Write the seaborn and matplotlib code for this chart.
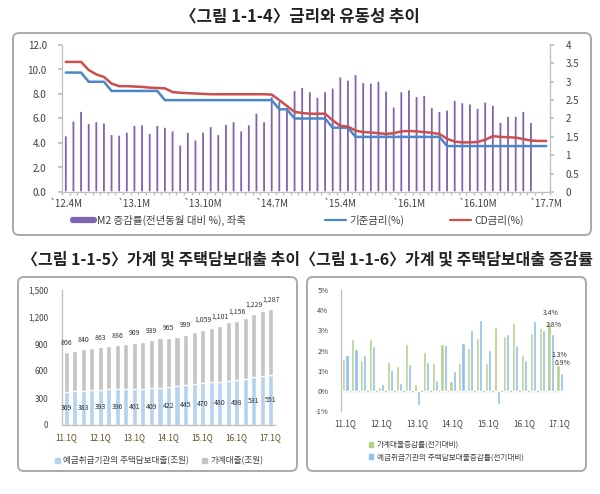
import numpy as np
import pandas as pd
import matplotlib
matplotlib.use('Agg')
import matplotlib.pyplot as plt
import matplotlib.patches as mpatches
from matplotlib.lines import Line2D
from matplotlib.transforms import IdentityTransform
import seaborn as sns

# ---- 그림 1-1-4 : 금리와 유동성 ('12.4 ~ '17.7, 월별)
months = pd.period_range('2012-04', '2017-07', freq='M')
month_labels = [f"`{p.year % 100}.{p.month}M" for p in months]
m2_growth = [4.6, 5.8, 6.6, 5.6, 5.75, 5.65, 4.7, 4.65, 4.9, 5.45,
             5.5, 4.8, 5.45, 5.3, 5.0, 3.85, 4.9, 4.25, 4.9, 5.35,
             4.7, 5.55, 5.75, 5.0, 5.5, 6.45, 5.75, 7.8, 7.4, 6.9,
             8.3, 8.55, 8.2, 7.75, 8.2, 8.5, 9.4, 9.15, 9.6, 8.95,
             8.9, 9.05, 8.25, 6.95, 8.2, 8.35, 7.8, 7.9, 6.9, 6.6,
             6.7, 7.5, 7.3, 7.2, 6.85, 7.35, 7.1, 5.7, 6.2, 6.2,
             6.6, 5.7]
base_rate = [3.25, 3.25, 3.25, 3.0, 3.0, 3.0, 2.75, 2.75, 2.75, 2.75,
             2.75, 2.75, 2.75, 2.5, 2.5, 2.5, 2.5, 2.5, 2.5, 2.5,
             2.5, 2.5, 2.5, 2.5, 2.5, 2.5, 2.5, 2.5, 2.25, 2.25,
             2.0, 2.0, 2.0, 2.0, 2.0, 1.75, 1.75, 1.75, 1.5, 1.5,
             1.5, 1.5, 1.5, 1.5, 1.5, 1.5, 1.5, 1.5, 1.5, 1.5,
             1.25, 1.25, 1.25, 1.25, 1.25, 1.25, 1.25, 1.25, 1.25, 1.25,
             1.25, 1.25, 1.25, 1.25]
cd_rate = [3.54, 3.54, 3.54, 3.32, 3.20, 3.13, 2.95, 2.88, 2.88, 2.87,
           2.86, 2.84, 2.83, 2.82, 2.72, 2.70, 2.69, 2.68, 2.67, 2.66,
           2.66, 2.66, 2.66, 2.66, 2.66, 2.66, 2.66, 2.65, 2.50, 2.34,
           2.18, 2.15, 2.13, 2.13, 2.13, 1.95, 1.80, 1.78, 1.67, 1.63,
           1.62, 1.60, 1.58, 1.60, 1.65, 1.66, 1.65, 1.63, 1.61, 1.58,
           1.45, 1.37, 1.35, 1.35, 1.36, 1.42, 1.52, 1.50, 1.49, 1.48,
           1.44, 1.40, 1.39, 1.39]
top_ticks = [0, 9, 18, 27, 36, 45, 54, 63]

# ---- 그림 1-1-5 / 1-1-6 : 분기별 (11.1Q ~ 17.1Q)
quarters = [f"{y}.{q}Q" for y in range(11, 18) for q in range(1, 5)][:25]
household_loan = [806, 822, 840, 858, 863, 874, 886, 901, 909, 920,
                  939, 962, 965, 980, 999, 1035, 1059, 1075, 1101, 1145,
                  1156, 1190, 1229, 1268, 1287]
mortgage_loan = [369, 376, 383, 388, 393, 395, 396, 399, 401, 405,
                 409, 416, 422, 433, 445, 460, 470, 475, 480, 490,
                 498, 515, 531, 545, 551]
household_growth = [1.57, 2.56, 1.55, 2.58, 0.17, 1.42, 1.22, 2.31, 0.35, 1.92,
                    1.36, 2.33, 0.48, 1.36, 2.10, 2.63, 1.39, 3.17, 2.73, 3.34,
                    1.80, 2.88, 3.11, 3.4, 1.3]
mortgage_growth = [1.77, 2.07, 1.77, 2.23, 0.33, 1.04, 0.38, 1.32, -0.71, 1.45,
                   0.55, 2.25, 0.98, 2.36, 3.04, 3.49, 2.02, -0.66, 2.84, 2.26,
                   1.52, 3.44, 3.04, 2.8, 0.9]
q_ticks = [0, 4, 8, 12, 16, 20, 24]

PURPLE, BLUE, RED = '#7f62b2', '#4a86c8', '#c9504d'
GRAY_BAR, SKY = '#c4c4c4', '#b5d3ef'
GREEN, BLUE2 = '#b3cf8b', '#8fc1e9'
SPINE, TXT = '#bfbfbf', '#404040'

sns.set_theme(style='ticks')
plt.rcParams['font.family'] = ['Noto Sans CJK KR', 'DejaVu Sans']

W, H = 600, 494
fig = plt.figure(figsize=(6, 4.94), dpi=100)
fig.patch.set_facecolor('white')


def px_axes(x0, y0, x1, y1):
    return fig.add_axes([x0 / W, 1 - y1 / H, (x1 - x0) / W, (y1 - y0) / H])


def panel(x0, y0, x1, y1):
    fig.add_artist(mpatches.FancyBboxPatch(
        (x0, H - y1), x1 - x0, y1 - y0, boxstyle='round,pad=0,rounding_size=6',
        transform=IdentityTransform(), fc='none', ec='#a9a9a9', lw=1.4, zorder=0))


def style_axis(a, spines):
    for s in ['left', 'right', 'top', 'bottom']:
        a.spines[s].set_visible(s in spines)
        a.spines[s].set_color(SPINE)
        a.spines[s].set_linewidth(0.9)
    a.set_xlabel('')
    a.set_ylabel('')
    a.set_facecolor('none')


def legend_item(handle, label, x, y, fs):
    leg = fig.legend([handle], [label], loc='center left', bbox_to_anchor=(x / W, 1 - y / H),
                     frameon=False, fontsize=fs, handlelength=2.0, handletextpad=0.3,
                     borderpad=0, borderaxespad=0, labelcolor=TXT)
    return leg


panel(13, 33, 591, 235)
panel(18, 277, 297, 471)
panel(307, 277, 586, 471)

# ---------------- top chart
fig.text(300 / W, 1 - 16 / H, '〈그림 1-1-4〉금리와 유동성 추이', ha='center', va='center',
         fontsize=12, fontweight='bold', color='#222222')

ax = px_axes(62, 45, 550, 192)
df_m2 = pd.DataFrame({'month': month_labels[:len(m2_growth)], 'm2': m2_growth})
sns.barplot(data=df_m2, x='month', y='m2', order=month_labels, color=PURPLE,
            width=0.42, saturation=1, ax=ax)
for p in ax.patches:
    p.set_snap(False)
ax.set_ylim(0, 12)
ax.set_yticks(np.arange(0, 12.1, 2))
ax.set_yticklabels([f"{v:.1f}" for v in np.arange(0, 12.1, 2)])
style_axis(ax, ['left', 'bottom'])

ax2 = ax.twinx()
x_idx = np.arange(len(month_labels))
sns.lineplot(x=x_idx, y=base_rate, color=BLUE, lw=1.8, ax=ax2)
sns.lineplot(x=x_idx, y=cd_rate, color=RED, lw=1.8, ax=ax2)
ax2.set_ylim(0, 4)
ax2.set_yticks(np.arange(0, 4.1, 0.5))
ax2.set_yticklabels(['0', '0.5', '1', '1.5', '2', '2.5', '3', '3.5', '4'])
style_axis(ax2, ['right'])
ax.set_xlim(-0.5, len(month_labels) - 0.5)
ax.set_xticks(top_ticks)
ax.set_xticklabels([month_labels[i] for i in top_ticks])
ax.set_xticks(np.arange(-0.5, len(month_labels), 1), minor=True)
ax.tick_params(axis='x', which='major', length=0, pad=5, labelsize=7, labelcolor=TXT)
ax.tick_params(axis='x', which='minor', length=2.5, color=SPINE, bottom=True)
ax.tick_params(axis='y', length=3, color=SPINE, labelsize=7, labelcolor=TXT, pad=8)
ax2.tick_params(axis='y', length=3, color=SPINE, labelsize=7, labelcolor=TXT, pad=8)

legend_item(Line2D([], [], color=PURPLE, lw=4.5), 'M2 증감률(전년동월 대비 %), 좌축', 73, 220, 7.5)
legend_item(Line2D([], [], color=BLUE, lw=1.6), '기준금리(%)', 325, 220, 7.5)
legend_item(Line2D([], [], color=RED, lw=1.6), 'CD금리(%)', 450, 220, 7.5)

# ---------------- bottom titles (one line, as in the source)
fig.text(308 / W, 1 - 259 / H,
         '〈그림 1-1-5〉가계 및 주택담보대출 추이〈그림 1-1-6〉가계 및 주택담보대출 증감률',
         ha='center', va='center', fontsize=11.5, fontweight='bold', color='#222222')

# ---------------- bottom-left chart
ax3 = px_axes(62, 290, 275, 425)
df_hh = pd.DataFrame({'quarter': quarters, 'household': household_loan, 'mortgage': mortgage_loan})
sns.barplot(data=df_hh, x='quarter', y='household', color=GRAY_BAR, width=0.6, saturation=1, ax=ax3)
sns.barplot(data=df_hh, x='quarter', y='mortgage', color=SKY, width=0.6, saturation=1, ax=ax3)
ax3.set_ylim(0, 1500)
ax3.set_xlim(-0.5, 24.5)
ax3.set_yticks(np.arange(0, 1501, 300))
ax3.set_yticklabels([f"{v:,}" for v in range(0, 1501, 300)])
ax3.set_xticks(q_ticks)
ax3.set_xticklabels([quarters[i] for i in q_ticks])
style_axis(ax3, ['left', 'bottom'])
ax3.tick_params(axis='y', length=0, labelsize=5.8, labelcolor=TXT, pad=10)
ax3.tick_params(axis='x', length=0, labelsize=5.8, labelcolor='#5e4b1c', pad=6)
for i in range(0, 25, 2):
    ax3.annotate(f"{household_loan[i]:,}", (i, household_loan[i]), xytext=(0, 7),
                 textcoords='offset points', ha='center', va='center', fontsize=5, color='#333333')
    ax3.annotate(f"{mortgage_loan[i]:,}", (i, mortgage_loan[i] / 2), ha='center', va='center',
                 fontsize=5, color='#333333')
fig.legend([mpatches.Patch(color=SKY), mpatches.Patch(color=GRAY_BAR)],
           ['예금취급기관의 주택담보대출(조원)', '가계대출(조원)'],
           loc='center', bbox_to_anchor=(159 / W, 1 - 461 / H), ncol=2, frameon=False,
           fontsize=6.2, handlelength=0.6, handleheight=0.6, handletextpad=0.4,
           columnspacing=1.5, labelcolor=TXT)

# ---------------- bottom-right chart
ax4 = px_axes(341, 290, 564, 411)
s1, s2 = '가계대출증감률(전기대비)', '예금취급기관의 주택담보대출증감률(전기대비)'
df_g = pd.DataFrame({'quarter': quarters * 2,
                     'series': [s1] * len(quarters) + [s2] * len(quarters),
                     'rate': household_growth + mortgage_growth})
sns.barplot(data=df_g, x='quarter', y='rate', hue='series', hue_order=[s1, s2],
            palette=[GREEN, BLUE2], width=0.7, saturation=1, ax=ax4, legend=False)
ax4.set_ylim(-1, 5)
ax4.set_xlim(-0.5, 24.5)
ax4.axhline(0, color=SPINE, lw=0.9, zorder=0.5)
ax4.set_yticks(range(-1, 6))
ax4.set_yticklabels([f"{v}%" for v in range(-1, 6)])
ax4.set_xticks(q_ticks)
ax4.set_xticklabels([quarters[i] for i in q_ticks])
style_axis(ax4, ['left'])
ax4.tick_params(axis='y', length=0, labelsize=5.5, labelcolor=TXT, pad=9)
ax4.tick_params(axis='x', length=0, labelsize=5.8, labelcolor=TXT, pad=6)
for i, off, val in [(23, -0.175, household_growth[23]), (23, 0.175, mortgage_growth[23]),
                    (24, -0.175, household_growth[24]), (24, 0.175, mortgage_growth[24])]:
    ax4.annotate(f"{val:.1f}%", (i + off, val), xytext=(1, 7), textcoords='offset points',
                 ha='center', va='center', fontsize=5, color='#333333')
fig.legend([mpatches.Patch(color=GREEN), mpatches.Patch(color=BLUE2)], [s1, s2],
           loc='upper left', bbox_to_anchor=(362 / W, 1 - 434 / H), ncol=1, frameon=False,
           fontsize=5.5, handlelength=0.6, handleheight=0.6, handletextpad=0.4,
           labelspacing=0.6, labelcolor=TXT)

fig.savefig('out.png', dpi=100)
